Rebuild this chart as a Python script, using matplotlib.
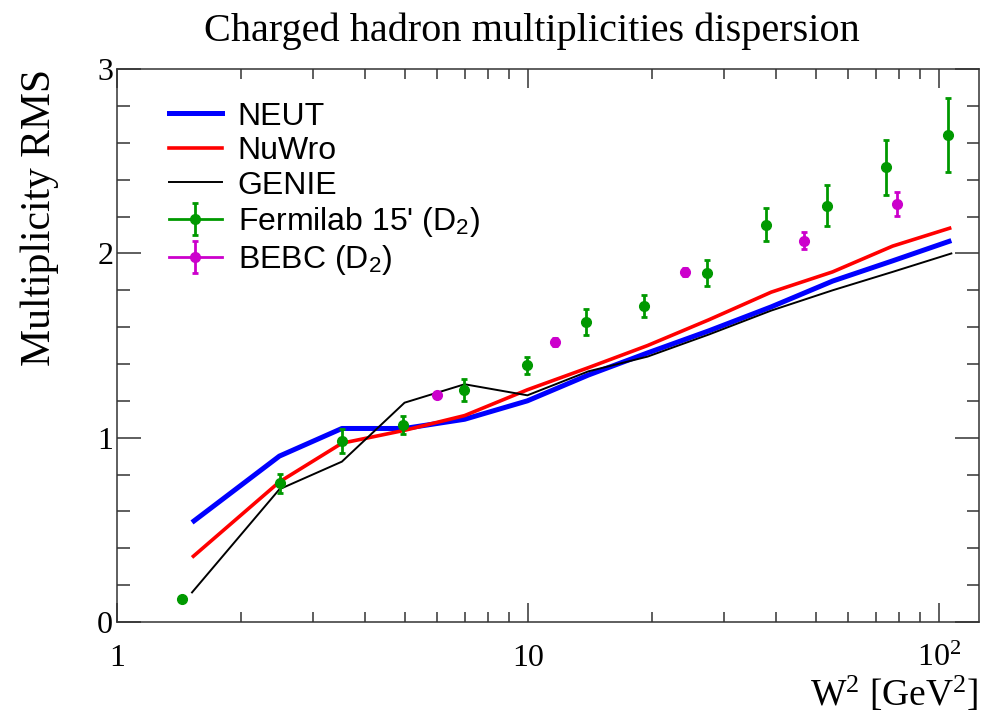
import matplotlib
matplotlib.use('Agg')
import matplotlib.pyplot as plt
from matplotlib.lines import Line2D
from matplotlib.ticker import FixedLocator, FixedFormatter, MultipleLocator, LogLocator, NullFormatter

plt.rcParams['font.family'] = ['Liberation Serif', 'DejaVu Serif']
plt.rcParams['mathtext.fontset'] = 'custom'
plt.rcParams['mathtext.rm'] = 'Liberation Serif'
plt.rcParams['mathtext.sf'] = 'Liberation Sans'
plt.rcParams['mathtext.default'] = 'rm'

# generator predictions
w2_model = [1.52, 2.48, 3.52, 5.0, 7.0, 9.95, 14.0, 19.5, 27.5, 39.0, 55.0, 77.0, 107.0]
neut = [0.54, 0.90, 1.05, 1.05, 1.10, 1.20, 1.34, 1.46, 1.58, 1.71, 1.85, 1.96, 2.07]
nuwro = [0.35, 0.76, 0.97, 1.04, 1.12, 1.26, 1.38, 1.50, 1.64, 1.79, 1.90, 2.04, 2.14]
genie = [0.16, 0.72, 0.87, 1.19, 1.29, 1.23, 1.36, 1.44, 1.56, 1.69, 1.80, 1.90, 2.00]

# Fermilab 15' bubble chamber (D2)
w2_fnal = [1.44, 2.49, 3.52, 4.95, 6.98, 9.92, 13.8, 19.1, 27.2, 37.8, 53.2, 74.1, 104.8]
rms_fnal = [0.126, 0.752, 0.98, 1.07, 1.26, 1.392, 1.63, 1.716, 1.894, 2.156, 2.26, 2.467, 2.644]
err_fnal = [0.01, 0.05, 0.065, 0.05, 0.06, 0.048, 0.07, 0.06, 0.072, 0.09, 0.11, 0.15, 0.20]

# BEBC (D2)
w2_bebc = [5.99, 11.6, 24.0, 46.9, 78.8]
rms_bebc = [1.23, 1.52, 1.899, 2.069, 2.268]
err_bebc = [0.015, 0.02, 0.02, 0.047, 0.065]

green = '#009900'
magenta = '#cc00cc'

fig = plt.figure(figsize=(9.94, 7.14), dpi=100)
ax = fig.add_axes([0.118, 0.129, 0.867, 0.774])

ax.plot(w2_model, neut, color='#0000ff', lw=3.6, solid_capstyle='butt', zorder=3)
ax.plot(w2_model, nuwro, color='#ff0000', lw=2.6, solid_capstyle='butt', zorder=3)
ax.plot(w2_model, genie, color='black', lw=1.4, zorder=3)

eb_fnal = ax.errorbar(w2_fnal, rms_fnal, yerr=err_fnal, fmt='o', color=green, ms=7,
                      elinewidth=2, capsize=2.5, capthick=2, zorder=4)
eb_bebc = ax.errorbar(w2_bebc, rms_bebc, yerr=err_bebc, fmt='o', color=magenta, ms=7,
                      elinewidth=2, capsize=2.5, capthick=2, zorder=4)

ax.set_xscale('log')
ax.set_xlim(1, 125)
ax.set_ylim(0, 3)

ax.xaxis.set_major_locator(FixedLocator([1, 10, 100]))
ax.xaxis.set_major_formatter(FixedFormatter(['1', '10', '$10^{2}$']))
ax.xaxis.set_minor_locator(LogLocator(base=10, subs=range(2, 10)))
ax.xaxis.set_minor_formatter(NullFormatter())
ax.yaxis.set_major_locator(MultipleLocator(1))
ax.yaxis.set_minor_locator(MultipleLocator(0.2))

ax.tick_params(axis='both', which='both', direction='in', top=True, right=True,
               color='#333333', width=1.1)
ax.tick_params(axis='x', which='major', length=14, labelsize=23, pad=16)
ax.tick_params(axis='x', which='minor', length=7)
ax.tick_params(axis='y', which='major', length=17, labelsize=23, pad=3)
ax.tick_params(axis='y', which='minor', length=9)
for sp in ax.spines.values():
    sp.set_color('#333333')
    sp.set_linewidth(1.1)

fig.text(0.535, 1 - 41 / 714, 'Charged hadron multiplicities dispersion',
         fontsize=29, ha='center', va='baseline')
fig.text(40 / 994, 1 - 69 / 714, 'Multiplicity RMS', fontsize=30,
         rotation=90, ha='center', va='top')
fig.text(978 / 994, 1 - 694 / 714, 'W$^{2}$ [GeV$^{2}$]', fontsize=27,
         ha='right', va='center')

h_neut = Line2D([], [], color='#0000ff', lw=3.6)
h_nuwro = Line2D([], [], color='#ff0000', lw=2.6)
h_genie = Line2D([], [], color='black', lw=1.4)
h_fnal = (Line2D([], [], color=green, lw=2), eb_fnal)
h_bebc = (Line2D([], [], color=magenta, lw=2), eb_bebc)
leg = ax.legend([h_neut, h_nuwro, h_genie, h_fnal, h_bebc],
                ['NEUT', 'NuWro', 'GENIE', "Fermilab 15' (D$_{\\mathsf{2}}$)",
                 'BEBC (D$_{\\mathsf{2}}$)'],
                loc='upper left', bbox_to_anchor=(0.034, 0.982), frameon=False,
                prop={'family': 'Liberation Sans', 'size': 23},
                handlelength=1.65, handletextpad=0.5, labelspacing=0.14,
                borderpad=0.2)

fig.savefig('out.png', dpi=100)
